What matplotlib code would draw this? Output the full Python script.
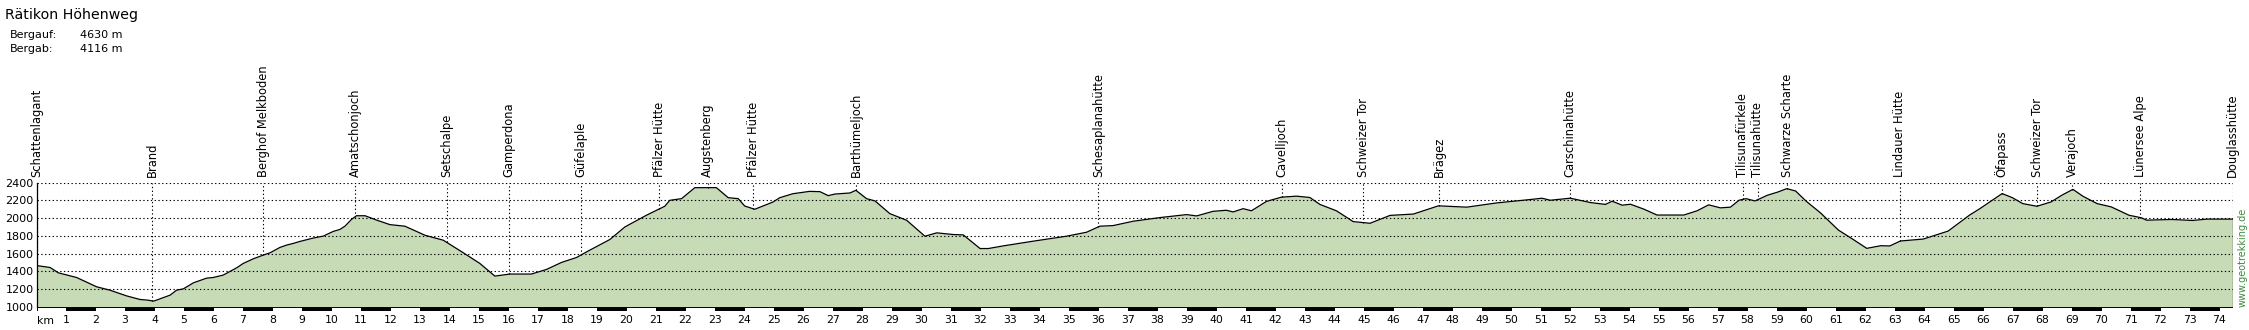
#Höhenprofil Rätikon Höhenweg
import matplotlib.pyplot as plt
import numpy as np


#Daten: Strecke in km und Höhe in m
km = [0.0, 0.46, 0.74, 1.36, 2.04, 2.49, 3.05, 3.51, 3.79, 3.96, 4.07, 4.53, 4.75, 4.98,
      5.32, 5.77, 5.99, 6.33, 6.79, 7.01, 7.35, 7.69, 7.92, 8.25, 8.48, 8.71, 8.93, 9.38,
      9.72, 10.06, 10.29, 10.46, 10.68, 10.85, 11.14, 11.53, 11.98, 12.49, 13.17, 13.79,
      14.47, 15.03, 15.54, 16.05, 16.78, 17.29, 17.80, 18.31, 18.76, 19.44, 19.95, 20.68,
      21.30, 21.47, 21.87, 22.32, 23.05, 23.45, 23.79, 24.01, 24.35, 24.97, 25.20, 25.65,
      26.21, 26.56, 26.84, 27.07, 27.58, 27.78, 28.14, 28.43, 28.93, 29.50, 30.12, 30.52,
      31.08, 31.42, 31.99, 32.27, 32.78, 33.79, 34.92, 35.60, 36.05, 36.50, 37.18, 38.08,
      38.99, 39.33, 39.89, 40.34, 40.57, 40.91, 41.19, 41.70, 42.21, 42.72, 43.17, 43.51,
      44.07, 44.64, 45.21, 45.89, 46.68, 47.53, 48.49, 49.51, 50.64, 51.04, 51.32, 52.00,
      52.68, 53.19, 53.42, 53.76, 54.04, 54.49, 54.94, 55.85, 56.30, 56.69, 57.09, 57.43,
      57.72, 57.96, 58.26, 58.68, 59.04, 59.34, 59.64, 60.00, 60.48, 61.09, 61.57, 62.05,
      62.53, 62.83, 63.19, 63.97, 64.57, 64.81, 65.53, 65.89, 66.64, 66.98, 67.34, 67.82,
      68.30, 68.66, 69.04, 69.38, 69.86, 70.34, 70.94, 71.36, 71.54, 72.38, 73.10, 73.58,
      74.45]
hoehe = [1465, 1443, 1383, 1330, 1225, 1187, 1123, 1082, 1074, 1063, 1075, 1131, 1187, 1202,
         1270, 1323, 1330, 1357, 1440, 1489, 1541, 1583, 1609, 1669, 1696, 1715, 1737, 1775,
         1797, 1850, 1873, 1910, 1986, 2027, 2027, 1978, 1927, 1909, 1807, 1751,
         1609, 1489, 1346, 1369, 1369, 1421, 1500, 1556, 1639, 1759, 1901, 2033,
         2134, 2201, 2220, 2344, 2344, 2231, 2220, 2137, 2100, 2182, 2231, 2276,
         2302, 2299, 2254, 2272, 2284, 2314, 2220, 2194, 2051, 1976, 1796, 1834,
         1815, 1811, 1657, 1657, 1687, 1740, 1796, 1841, 1909, 1916, 1965, 2006,
         2040, 2025, 2077, 2089, 2070, 2107, 2083, 2189, 2237, 2248, 2233, 2155,
         2083, 1961, 1942, 2031, 2046, 2139, 2124, 2172, 2210, 2225, 2202, 2225,
         2176, 2155, 2191, 2146, 2157, 2102, 2035, 2035, 2083, 2150, 2116, 2124,
         2202, 2220, 2194, 2258, 2295, 2333, 2306, 2190, 2060, 1865, 1764, 1659,
         1689, 1686, 1742, 1764, 1828, 1854, 2033, 2108, 2277, 2232, 2164, 2134,
         2183, 2258, 2325, 2247, 2164, 2127, 2033, 2004, 1977, 1985, 1974, 1989,
         1989]

#Wegpunkte
orte = ["Schattenlagant", "Brand", "Berghof Melkboden", "Amatschonjoch", "Setschalpe",
        "Gamperdona", "Güfelaple", "Pfälzer Hütte", "Augstenberg", "Pfälzer Hütte",
        "Barthümeljoch", "Schesaplanahütte", "Cavelljoch", "Schweizer Tor", "Brägez",
        "Carschinahütte", "Tilisunafürkele", "Tilisunahütte", "Schwarze Scharte",
        "Lindauer Hütte", "Öfapass", "Schweizer Tor", "Verajoch", "Lünersee Alpe",
        "Douglasshütte"]
orte_km = [0.0, 3.93, 7.69, 10.81, 13.91, 16.03, 18.47, 21.11, 22.75, 24.30, 27.78, 36.0,
           42.23, 44.98, 47.55, 51.98, 57.85, 58.35, 59.35, 63.17, 66.63, 67.83, 69.02,
           71.32, 74.45]

titel = "Rätikon Höhenweg"
bergauf = "4630 m"
bergab = "4116 m"
y_ticks = [1000, 1200, 1400, 1600, 1800, 2000, 2200, 2400]
km_ticks = list(range(1, 75))

W, H = 2249, 330
fig = plt.figure(figsize=(W / 100, H / 100), dpi=100)
ax = fig.add_axes([36.5 / W, (H - 311) / H, (2232.5 - 36.5) / W, (311 - 182.7) / H])
ax.set_xlim(0, km[-1])
ax.set_ylim(952, 2400)

gruen = '#c7dbb7'
punkt = (0, (1.2, 2.2))

#Profil
ax.fill_between(km, hoehe, 1000, color=gruen, linewidth=0, zorder=1)
ax.hlines(y_ticks[1:], 0, km[-1], colors='black', linestyles=punkt, linewidth=0.8, zorder=2)
ax.plot(km, hoehe, color='black', linewidth=0.9, zorder=3)
ax.vlines(km[-1], 1000, hoehe[-1], colors='black', linewidth=0.9, zorder=3)

#Wegpunkte mit gestrichelten Linien
for name, k in zip(orte, orte_km):
    h = np.interp(k, km, hoehe)
    ax.vlines(k, h, 2400, colors='black', linestyles=punkt, linewidth=0.8, zorder=2)
    ax.annotate(name, (k, 2400), xytext=(0, 4), textcoords='offset points', rotation=90,
                ha='center', va='bottom', fontsize=8.3, annotation_clip=False)

#Kilometer-Balken
seg = np.arange(0, int(km[-1]) + 1)
breite = np.minimum(seg + 1, km[-1]) - seg
farben = ['white' if i % 2 == 0 else 'black' for i in seg]
ax.bar(seg, 48, width=breite, bottom=952, align='edge', color=farben,
       edgecolor='black', linewidth=0.7, zorder=4)

#Achsen
for s in ['top', 'right', 'bottom']:
    ax.spines[s].set_visible(False)
ax.spines['left'].set_bounds(1000, 2400)
ax.spines['left'].set_linewidth(0.9)
ax.set_yticks(y_ticks)
ax.set_xticks(km_ticks)
ax.tick_params(axis='y', length=0, pad=2, labelsize=8)
ax.tick_params(axis='x', length=0, pad=3, labelsize=7.8)

#Texte
fig.text(45 / W, (H - 321) / H, "km", ha='center', va='center', fontsize=7.8)
fig.text(5 / W, (H - 15) / H, titel, ha='left', va='center', fontsize=10.2)
fig.text(10 / W, (H - 35) / H, "Bergauf:", ha='left', va='center', fontsize=8)
fig.text(80 / W, (H - 35) / H, bergauf, ha='left', va='center', fontsize=8)
fig.text(10 / W, (H - 49) / H, "Bergab:", ha='left', va='center', fontsize=8)
fig.text(80 / W, (H - 49) / H, bergab, ha='left', va='center', fontsize=8)
fig.text(2243 / W, (H - 307) / H, "www.geotrekking.de", rotation=90, ha='center',
         va='bottom', fontsize=7, color='#3c8c3c')

plt.savefig("out.png", dpi=100)
